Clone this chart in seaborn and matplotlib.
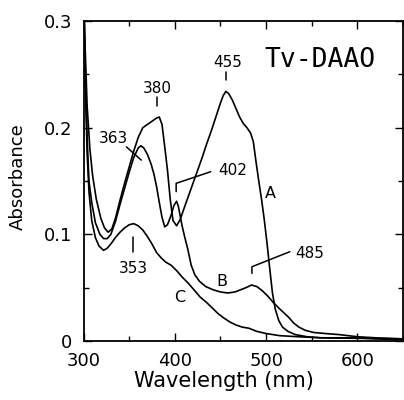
import numpy as np
import pandas as pd
import matplotlib
matplotlib.use("Agg")
import matplotlib.pyplot as plt
import seaborn as sns
from matplotlib.ticker import MultipleLocator

# ---------------- data ----------------
A_x = [300.5, 302, 304, 307, 310, 314, 319, 323, 327, 331, 335, 340, 345, 350, 355,
       360, 365, 370, 375, 380, 383, 386, 389, 392, 395, 398, 402, 406, 410, 415,
       420, 425, 430, 435, 440, 445, 450, 453, 456, 459, 463, 467, 471, 475, 479,
       483, 486, 489, 492, 495, 498, 501, 504, 507, 510, 514, 518, 524, 532, 545,
       560, 580, 600, 620, 650]
A_y = [0.31, 0.27, 0.22, 0.18, 0.155, 0.133, 0.115, 0.106, 0.102, 0.105, 0.115, 0.132,
       0.148, 0.163, 0.178, 0.191, 0.200, 0.203, 0.206, 0.209, 0.210, 0.203, 0.182,
       0.160, 0.133, 0.113, 0.108, 0.114, 0.124, 0.136, 0.148, 0.160, 0.172, 0.185,
       0.197, 0.210, 0.223, 0.230, 0.234, 0.232, 0.226, 0.218, 0.210, 0.204, 0.200,
       0.195, 0.187, 0.168, 0.150, 0.133, 0.114, 0.092, 0.068, 0.045, 0.030, 0.019,
       0.013, 0.009, 0.006, 0.004, 0.003, 0.003, 0.003, 0.002, 0.001]

B_x = [300.5, 302, 304, 306, 309, 313, 318, 322, 326, 330, 335, 340, 345, 350, 355,
       360, 363, 366, 370, 374, 377, 380, 383, 386, 389, 392, 396, 399, 402, 404,
       406, 408, 411, 414, 418, 422, 427, 434, 442, 450, 458, 466, 472, 478, 484,
       490, 496, 502, 508, 515, 520, 525, 530, 536, 543, 552, 565, 580, 600, 620, 650]
B_y = [0.31, 0.25, 0.19, 0.150, 0.130, 0.111, 0.100, 0.096, 0.096, 0.100, 0.112,
       0.128, 0.143, 0.158, 0.172, 0.181, 0.183, 0.181, 0.175, 0.166, 0.157, 0.145,
       0.130, 0.116, 0.107, 0.109, 0.118, 0.127, 0.131, 0.126, 0.117, 0.108, 0.097,
       0.087, 0.071, 0.062, 0.056, 0.051, 0.048, 0.046, 0.045, 0.046, 0.048, 0.050,
       0.0525, 0.051, 0.047, 0.042, 0.036, 0.030, 0.026, 0.022, 0.017, 0.013, 0.010,
       0.008, 0.007, 0.006, 0.004, 0.003, 0.002]

C_x = [300.5, 302, 304, 306, 309, 313, 317, 322, 326, 330, 335, 340, 345, 350, 355,
       360, 365, 370, 375, 380, 385, 390, 396, 402, 408, 415, 422, 428, 435, 441,
       447, 453, 460, 467, 474, 481, 490, 500, 515, 535, 560, 600, 650]
C_y = [0.31, 0.24, 0.175, 0.140, 0.113, 0.097, 0.089, 0.085, 0.087, 0.091, 0.097,
       0.102, 0.106, 0.109, 0.110, 0.108, 0.104, 0.098, 0.091, 0.083, 0.078, 0.074,
       0.071, 0.066, 0.060, 0.054, 0.047, 0.041, 0.036, 0.031, 0.026, 0.022, 0.018,
       0.015, 0.013, 0.012, 0.009, 0.007, 0.005, 0.004, 0.003, 0.0025, 0.002]

curve_names = ["A", "B", "C"]
x_ticks = [300, 400, 500, 600]
x_tick_labels = ["300", "400", "500", "600"]
y_ticks = [0, 0.1, 0.2, 0.3]
y_tick_labels = ["0", "0.1", "0.2", "0.3"]

# peak annotations: label, text position, pointer path
peak_labels = ["455", "380", "363", "402", "485", "353"]
peak_text_xy = [(458, 0.2615), (381, 0.237), (333, 0.190), (463.6, 0.160),
                (548, 0.0825), (355, 0.068)]
peak_pointers = [
    [(455.7, 0.252), (455.7, 0.245)],
    [(381, 0.2287), (381, 0.2202)],
    [(347, 0.182), (363.3, 0.1696)],
    [(439.3, 0.1587), (401.5, 0.1478), (401.5, 0.140)],
    [(526, 0.0837), (484.5, 0.0696), (484.5, 0.0634)],
    [(354, 0.0978), (354, 0.0837)],
]
curve_label_xy = [(505, 0.138), (451.6, 0.056), (405, 0.041)]

# ---------------- build table ----------------
frames = []
for name, xs, ys in zip(curve_names, [A_x, B_x, C_x], [A_y, B_y, C_y]):
    frames.append(pd.DataFrame({"wl": xs, "abs": ys, "curve": name}))
df = pd.concat(frames, ignore_index=True)

sns.set_style("ticks")
plt.rcParams["font.family"] = ["DejaVu Sans"]

fig = plt.figure(figsize=(4.04, 4.0), dpi=100)
ax = fig.add_axes([83.5 / 404, 59 / 400, (403 - 83.5) / 404, 320 / 400])

sns.lineplot(data=df, x="wl", y="abs", hue="curve",
             palette={"A": "black", "B": "black", "C": "black"},
             estimator=None, sort=False, linewidth=1.2, legend=False, ax=ax)

ax.set_xlim(300, 650)
ax.set_ylim(0, 0.3)
ax.set_xticks(x_ticks)
ax.set_xticklabels(x_tick_labels)
ax.set_yticks(y_ticks)
ax.set_yticklabels(y_tick_labels)
ax.xaxis.set_minor_locator(MultipleLocator(50))
ax.yaxis.set_minor_locator(MultipleLocator(0.05))
ax.tick_params(which="both", direction="in", top=True, right=True,
               color="black", width=1.0)
ax.tick_params(which="major", length=6, labelsize=13, pad=8, labelcolor="black")
ax.tick_params(which="minor", length=3.5)
for s in ax.spines.values():
    s.set_linewidth(1.3)
    s.set_color("black")

ax.set_xlabel("Wavelength (nm)", fontsize=15, color="black")
ax.set_ylabel("Absorbance", fontsize=13, color="black")
ax.xaxis.set_label_coords(0.44, -0.095)
ax.yaxis.label.set_va("center")
ax.yaxis.set_label_coords(-0.205, 0.5125)

for lab, (tx, ty), path in zip(peak_labels, peak_text_xy, peak_pointers):
    ax.text(tx, ty, lab, fontsize=11, ha="center", va="center", color="black")
    px, py = zip(*path)
    ax.plot(px, py, color="black", linewidth=1.1)

for lab, (tx, ty) in zip(curve_names, curve_label_xy):
    ax.text(tx, ty, lab, fontsize=11.5, ha="center", va="center", color="black")

ax.text(559, 0.263, "Tv-DAAO", fontsize=19, ha="center", va="center",
        family="DejaVu Sans Mono", color="black")

fig.savefig("out.png", dpi=100)
